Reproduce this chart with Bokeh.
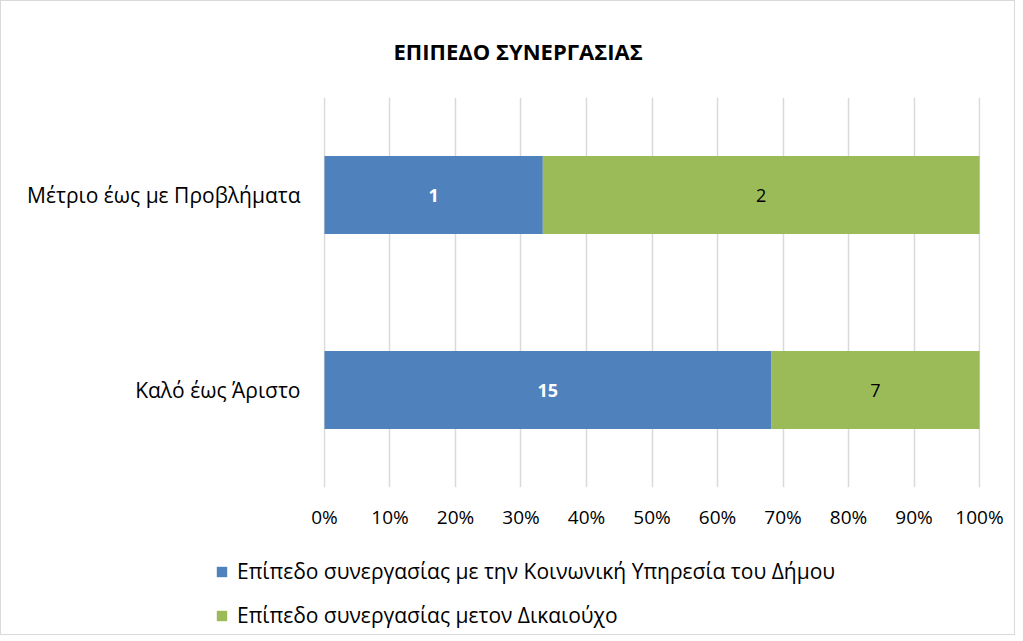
from bokeh.plotting import figure
from bokeh.models import ColumnDataSource, FactorRange, Legend, LegendItem, NumeralTickFormatter, LabelSet, Range1d
from bokeh.embed import file_html
from bokeh.resources import INLINE
from bokeh.core.properties import value

categories = ["Καλό έως Άριστο", "Μέτριο έως με Προβλήματα"]
series_names = ["Επίπεδο συνεργασίας με την Κοινωνική Υπηρεσία του Δήμου",
                "Επίπεδο συνεργασίας μετον Δικαιούχο"]
blue_vals = [15, 1]
green_vals = [7, 2]
x_ticks = [0, 0.1, 0.2, 0.3, 0.4, 0.5, 0.6, 0.7, 0.8, 0.9, 1.0]

BLUE = "#4F81BD"
GREEN = "#9BBB59"
FONT = "Open Sans"
BORDER = "1px solid #D9D9D9"

totals = [b + g for b, g in zip(blue_vals, green_vals)]
blue_pct = [b / t for b, t in zip(blue_vals, totals)]
green_pct = [g / t for g, t in zip(green_vals, totals)]

src = ColumnDataSource(dict(
    cat=categories,
    b_left=[0] * len(categories), b_right=blue_pct,
    g_left=blue_pct, g_right=[b + g for b, g in zip(blue_pct, green_pct)],
    b_mid=[p / 2 for p in blue_pct],
    g_mid=[b + g / 2 for b, g in zip(blue_pct, green_pct)],
    b_txt=[str(v) for v in blue_vals],
    g_txt=[str(v) for v in green_vals],
))

W = 1015
p = figure(width=W, height=545, y_range=FactorRange(factors=categories),
           x_range=Range1d(-0.0015, 1.0015), output_backend="svg", toolbar_location=None,
           min_border_left=322, min_border_right=W - 322 - 657, min_border_top=96,
           min_border_bottom=59, title="ΕΠΙΠΕΔΟ ΣΥΝΕΡΓΑΣΙΑΣ")

rb = p.hbar(y="cat", left="b_left", right="b_right", height=0.4, source=src,
            fill_color=BLUE, line_color=None)
rg = p.hbar(y="cat", left="g_left", right="g_right", height=0.4, source=src,
            fill_color=GREEN, line_color=None)

p.add_layout(LabelSet(x="b_mid", y="cat", text="b_txt", source=src, text_align="center",
                      text_baseline="middle", text_color="white", text_font=value(FONT),
                      text_font_style="bold", text_font_size="18px"))
p.add_layout(LabelSet(x="g_mid", y="cat", text="g_txt", source=src, text_align="center",
                      text_baseline="middle", text_color="#000000", text_font=value(FONT),
                      text_font_size="18px"))

p.title.align = "left"
p.title.offset = 70
p.title.text_font = FONT
p.title.text_font_size = "22px"
p.title.text_font_style = "bold"
p.title.text_color = "#000000"
p.title.standoff = 63

p.xaxis.ticker = x_ticks
p.xaxis.formatter = NumeralTickFormatter(format="0%")
p.xaxis.axis_line_color = None
p.xaxis.major_tick_line_color = None
p.xaxis.minor_tick_line_color = None
p.xaxis.major_label_standoff = 10
p.xaxis.major_label_text_font = FONT
p.xaxis.major_label_text_font_size = "19px"
p.xaxis.major_label_text_color = "#000000"

p.yaxis.axis_line_color = None
p.yaxis.major_tick_line_color = None
p.yaxis.major_label_standoff = 17
p.yaxis.major_label_text_font = FONT
p.yaxis.major_label_text_font_size = "21px"
p.yaxis.major_label_text_color = "#000000"

p.ygrid.grid_line_color = None
p.xgrid.grid_line_color = "#D9D9D9"
p.xgrid.grid_line_width = 1.5
p.outline_line_color = None
p.styles = {"border-top": BORDER, "border-left": BORDER, "border-right": BORDER}

# legend panel below the chart (separate root so its frame spans the full width)
p2 = figure(width=W, height=90, x_range=(0, 1), y_range=(0, 1), output_backend="svg",
            toolbar_location=None, min_border=0)
p2.axis.visible = False
p2.grid.visible = False
p2.outline_line_color = None
lb = p2.hbar(y=[10], left=[0], right=[0], height=0.4, fill_color=BLUE, line_color=None)
lg = p2.hbar(y=[10], left=[0], right=[0], height=0.4, fill_color=GREEN, line_color=None)
legend = Legend(items=[LegendItem(label=series_names[0], renderers=[lb]),
                       LegendItem(label=series_names[1], renderers=[lg])],
                location=(214, 6), orientation="vertical",
                glyph_width=13, glyph_height=13, label_standoff=9, spacing=16,
                padding=0, margin=0, border_line_color=None, background_fill_alpha=0,
                label_text_font=FONT, label_text_font_size="21px", label_text_color="#000000")
p2.add_layout(legend, "center")
p2.styles = {"border-bottom": BORDER, "border-left": BORDER, "border-right": BORDER}

open("out.html", "w").write(file_html([p, p2], INLINE))
